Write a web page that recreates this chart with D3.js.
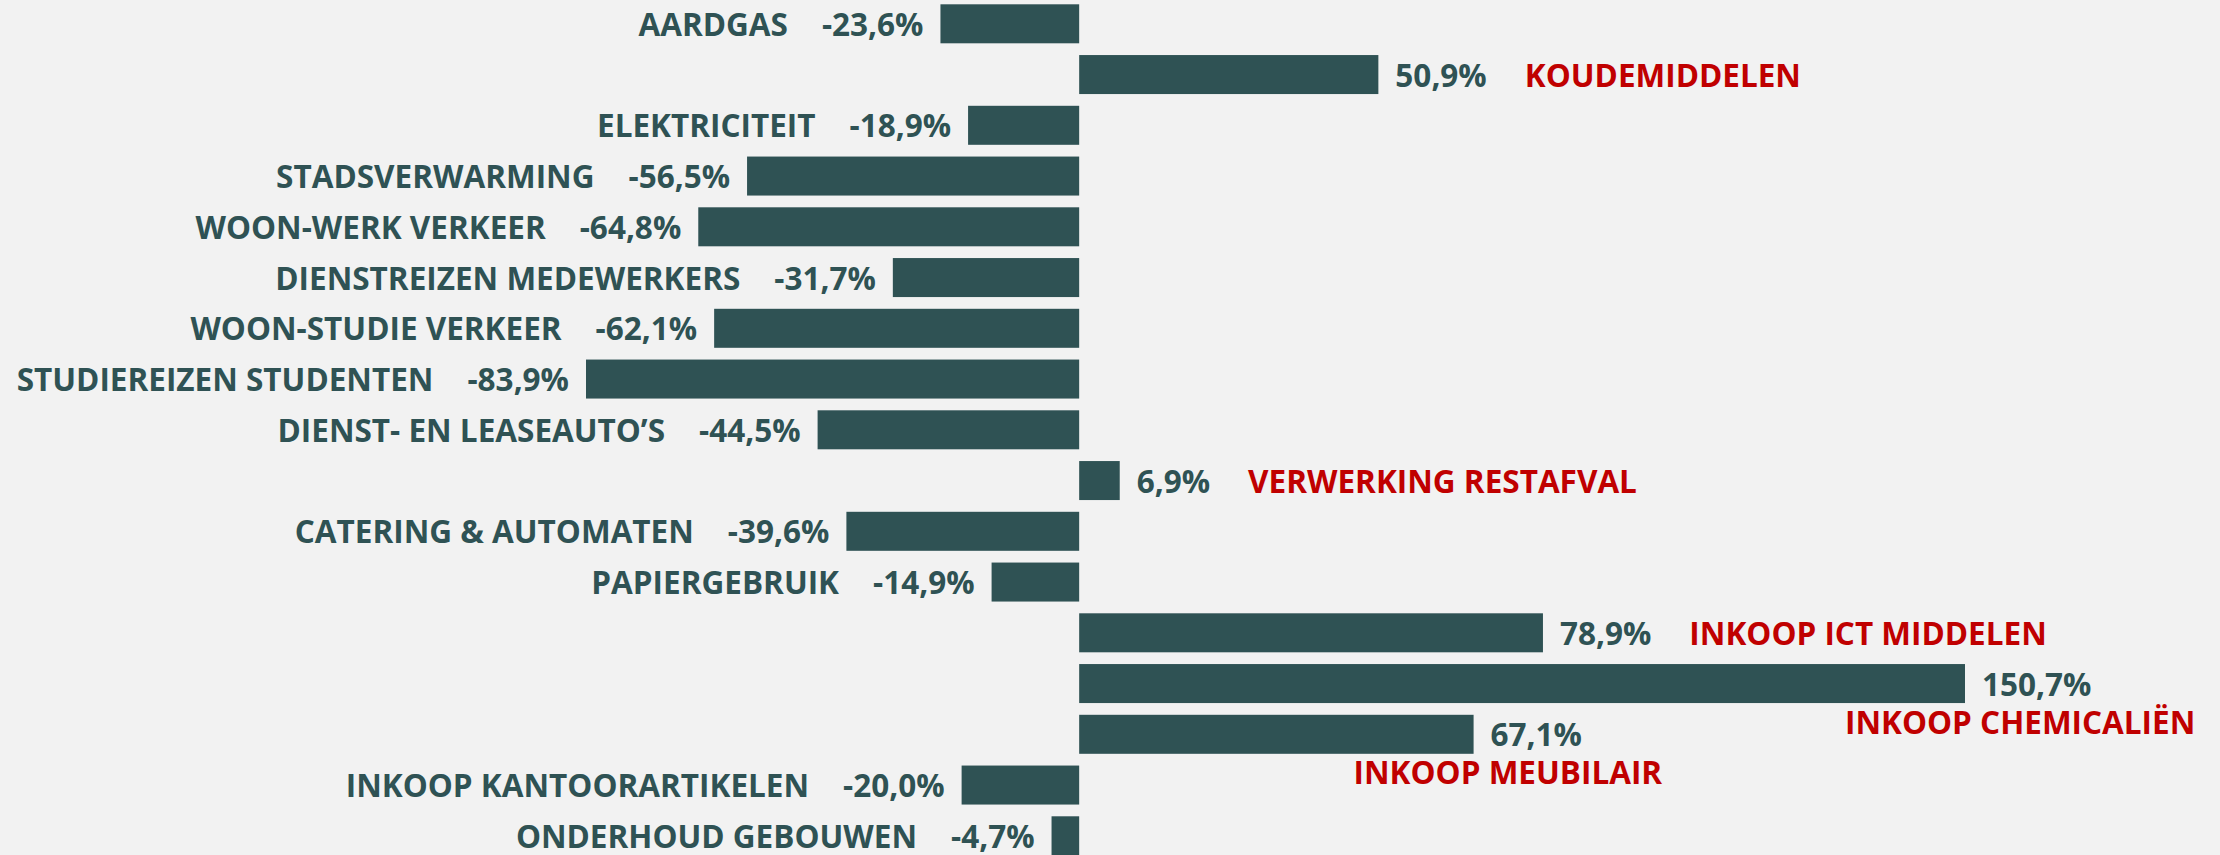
<!DOCTYPE html>
<html lang="nl">
<head>
    <meta charset="UTF-8">
    <title>Verandering CO2-uitstoot per bron</title>
    <script src="https://d3js.org/d3.v7.min.js"></script>
    <style>
        body {
            margin: 0;
            background-color: #F2F2F2;
        }
        svg {
            display: block;
        }
        text {
            font-family: "Open Sans", sans-serif;
            font-weight: 700;
            font-size: 31.5px;
        }
    </style>
</head>
<body>
    <svg id="chart" width="2220" height="855"></svg>

    <script>
        // categories top to bottom, with the change in percent
        const categories = [
            "AARDGAS", "KOUDEMIDDELEN", "ELEKTRICITEIT", "STADSVERWARMING",
            "WOON-WERK VERKEER", "DIENSTREIZEN MEDEWERKERS", "WOON-STUDIE VERKEER",
            "STUDIEREIZEN STUDENTEN", "DIENST- EN LEASEAUTO\u2019S", "VERWERKING RESTAFVAL",
            "CATERING & AUTOMATEN", "PAPIERGEBRUIK", "INKOOP ICT MIDDELEN",
            "INKOOP CHEMICALI\u00CBN", "INKOOP MEUBILAIR", "INKOOP KANTOORARTIKELEN",
            "ONDERHOUD GEBOUWEN"
        ];
        const changes = [
            -23.6, 50.9, -18.9, -56.5, -64.8, -31.7, -62.1, -83.9, -44.5,
            6.9, -39.6, -14.9, 78.9, 150.7, 67.1, -20.0, -4.7
        ];

        const barColor = "#2F5254";
        const textColor = "#2F5254";
        const riseColor = "#C00000";

        // names of rising items that go under the value instead of next to it
        const nameBelow = new Set(["INKOOP CHEMICALI\u00CBN", "INKOOP MEUBILAIR"]);

        const svg = d3.select("#chart");

        const x = d3.scaleLinear()
            .domain([d3.min(changes), d3.max(changes)])
            .range([586, 1965]);

        const y = d3.scaleBand()
            .domain(categories)
            .range([4.3, 855.3])
            .paddingInner(0.2315)
            .paddingOuter(0);

        const fmt = v => d3.format(".1f")(v).replace(".", ",").replace("\u2212", "-") + "%";

        const rows = categories.map((name, i) => ({ name, value: changes[i] }));

        // bars
        svg.selectAll("rect.bar")
            .data(rows)
            .join("rect")
            .attr("class", "bar")
            .attr("x", d => x(Math.min(0, d.value)))
            .attr("y", d => y(d.name))
            .attr("width", d => Math.abs(x(d.value) - x(0)))
            .attr("height", y.bandwidth())
            .attr("fill", barColor);

        const valueGap = 17;   // bar end to value label
        const nameGapNeg = 34; // value label to category name (falling items)
        const nameGapPos = 38; // value label to category name (rising items)

        rows.forEach(d => {
            let cy = y(d.name) + y.bandwidth() / 2;
            let base = cy + 12;

            if (d.value < 0) {
                let vx = x(d.value) - valueGap;
                let vt = svg.append("text")
                    .attr("x", vx)
                    .attr("y", base)
                    .attr("text-anchor", "end")
                    .attr("fill", textColor)
                    .text(fmt(d.value));
                let w = vt.node().getComputedTextLength();

                svg.append("text")
                    .attr("x", vx - w - nameGapNeg)
                    .attr("y", base)
                    .attr("text-anchor", "end")
                    .attr("fill", textColor)
                    .text(d.name);
            } else {
                let vx = x(d.value) + valueGap;
                let vt = svg.append("text")
                    .attr("x", vx)
                    .attr("y", base)
                    .attr("fill", textColor)
                    .text(fmt(d.value));
                let w = vt.node().getComputedTextLength();

                if (nameBelow.has(d.name)) {
                    svg.append("text")
                        .attr("x", x(d.value) - 120)
                        .attr("y", base + 38)
                        .attr("fill", riseColor)
                        .text(d.name);
                } else {
                    svg.append("text")
                        .attr("x", vx + w + nameGapPos)
                        .attr("y", base)
                        .attr("fill", riseColor)
                        .text(d.name);
                }
            }
        });
    </script>
</body>
</html>
